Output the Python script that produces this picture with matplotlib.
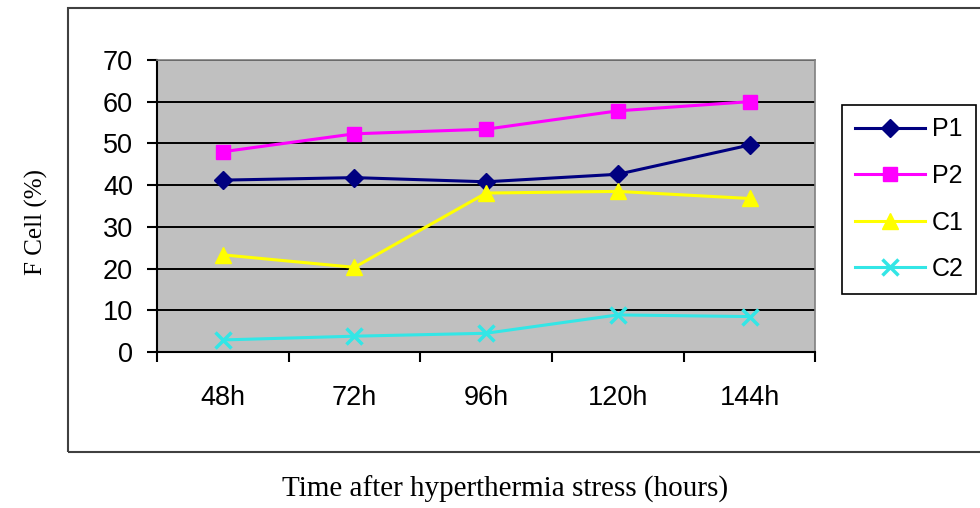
import matplotlib
matplotlib.use('Agg')
import matplotlib.pyplot as plt
from matplotlib.patches import Rectangle
import numpy as np

# data
times = ['48h', '72h', '96h', '120h', '144h']
p1 = [41.2, 41.8, 40.8, 42.6, 49.6]
p2 = [48.0, 52.3, 53.4, 57.8, 60.0]
c1 = [23.3, 20.3, 38.1, 38.5, 36.8]
c2 = [2.9, 3.8, 4.5, 8.9, 8.5]
yticks = [0, 10, 20, 30, 40, 50, 60, 70]

sans = ['Liberation Sans', 'DejaVu Sans']
serif = ['Liberation Serif', 'DejaVu Serif']

fig = plt.figure(figsize=(9.8, 5.08), dpi=100)
ax = fig.add_axes([0.160, 0.307, 0.672, 0.575])
ax.set_facecolor('#C0C0C0')

x = np.arange(len(times))
ax.plot(x, p1, color='#000080', lw=2.2, marker='D', ms=9, label='P1')
ax.plot(x, p2, color='#FF00FF', lw=2.2, marker='s', ms=10, label='P2')
ax.plot(x, c1, color='#FFFF00', lw=2.2, marker='^', ms=11, label='C1')
ax.plot(x, c2, color='#33E6E6', lw=2.2, marker='x', ms=11, mew=2.5, label='C2')

# axes
ax.set_xlim(-0.5, len(times) - 0.5)
ax.set_ylim(0, 70)
ax.set_yticks(yticks)
ax.set_yticklabels([str(v) for v in yticks], fontfamily=sans, fontsize=19.5)
ax.set_xticks(x)
ax.set_xticklabels(times, fontfamily=sans, fontsize=19.5)
ax.set_xticks(np.arange(len(times) + 1) - 0.5, minor=True)
ax.tick_params(axis='x', which='major', length=0, pad=24)
ax.tick_params(axis='x', which='minor', length=7, width=1.5, direction='out')
ax.tick_params(axis='y', length=7, width=1.5, direction='out', pad=10)
ax.yaxis.grid(True, color='black', lw=1.4)
ax.set_axisbelow(True)

for s in ['top', 'right']:
    ax.spines[s].set_color('#808080')
    ax.spines[s].set_linewidth(1.2)
for s in ['left', 'bottom']:
    ax.spines[s].set_color('black')
    ax.spines[s].set_linewidth(1.5)

# legend
leg = ax.legend(loc='upper left', bbox_to_anchor=(842 / 980, 1 - 105 / 508),
                bbox_transform=fig.transFigure, borderaxespad=0,
                fancybox=False, edgecolor='black', framealpha=1,
                prop={'family': sans, 'size': 18}, handlelength=2.8,
                labelspacing=0.9, borderpad=0.5, handletextpad=0.3)
leg.get_frame().set_linewidth(1.2)

# outer chart frame (right side runs off the image)
fig.patches.append(Rectangle((68 / 980, 1 - 452 / 508), 930 / 980, 444 / 508,
                             transform=fig.transFigure, fill=False,
                             edgecolor='#404040', lw=1.5))

# axis titles
fig.text(36 / 980, 1 - 222 / 508, 'F Cell (%)', rotation=90, ha='center', va='center',
         fontfamily=serif, fontsize=18)
fig.text(505 / 980, 1 - 489 / 508, 'Time after hyperthermia stress (hours)',
         ha='center', va='center', fontfamily=serif, fontsize=21)

fig.savefig('out.png', dpi=100)
